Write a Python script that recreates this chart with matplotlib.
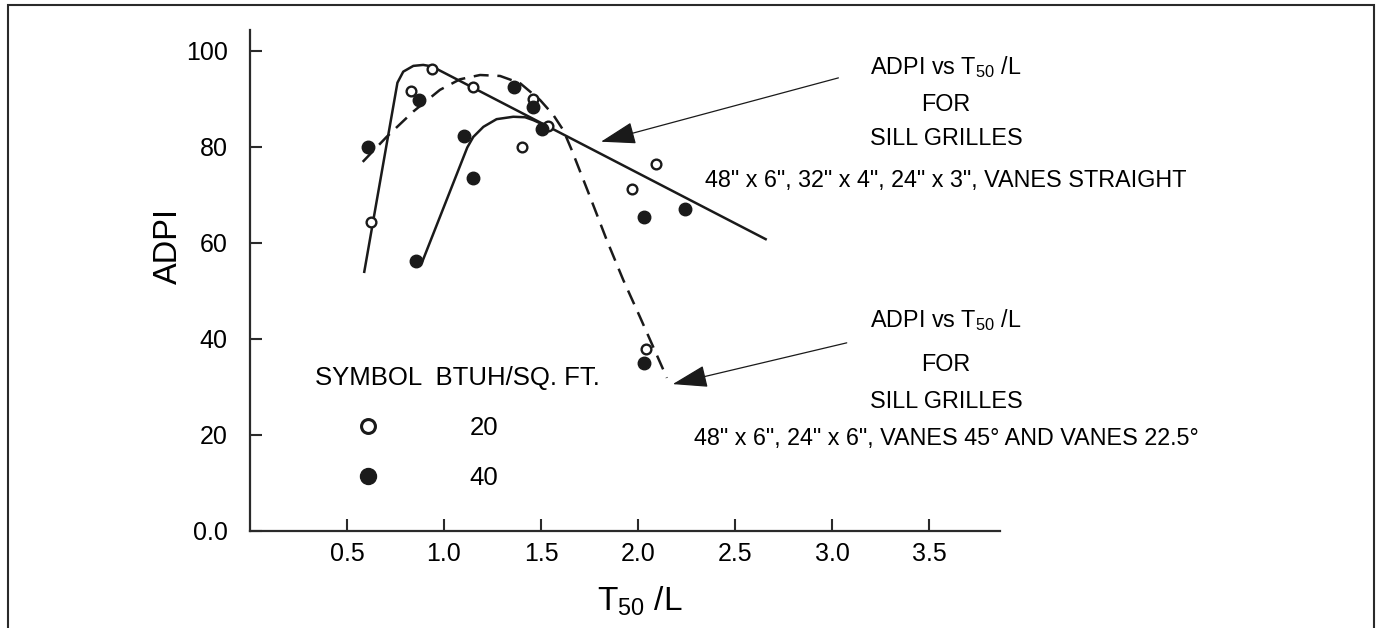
import matplotlib
matplotlib.use('Agg')
import matplotlib.pyplot as plt
from matplotlib.patches import Rectangle

plt.rcParams['font.family'] = ['Liberation Sans', 'DejaVu Sans']
plt.rcParams['mathtext.fontset'] = 'custom'
plt.rcParams['mathtext.rm'] = 'Liberation Sans'
plt.rcParams['mathtext.it'] = 'Liberation Sans'

# measured points, T50/L vs ADPI
open_x = [0.622, 0.828, 0.937, 1.151, 1.40, 1.46, 1.538, 1.967, 2.04, 2.093]
open_y = [64.3, 91.7, 96.2, 92.4, 79.9, 89.9, 84.4, 71.3, 37.9, 76.4]   # 20 BTUH/sq.ft
fill_x = [0.607, 0.856, 0.871, 1.103, 1.151, 1.362, 1.46, 1.507, 2.031, 2.031, 2.244]
fill_y = [79.9, 56.3, 89.8, 82.3, 73.5, 92.4, 88.4, 83.7, 65.4, 34.9, 67.1]  # 40 BTUH/sq.ft

# hand drawn curves
line1_x = [0.589, 0.760, 0.790, 0.842, 0.893, 0.937, 2.658]
line1_y = [54.0, 93.4, 95.7, 96.9, 97.1, 96.8, 60.8]
line2_x = [0.890, 1.120, 1.151, 1.203, 1.271, 1.357, 1.418, 1.460, 1.504]
line2_y = [56.3, 79.9, 82.1, 84.2, 85.8, 86.3, 86.2, 85.6, 84.8]
dash_x = [0.581, 0.704, 0.842, 0.979, 1.082, 1.186, 1.289, 1.392, 1.495, 1.563, 1.615,
          1.658, 1.753, 1.839, 1.924, 2.010, 2.149]
dash_y = [76.9, 82.1, 87.4, 91.9, 94.1, 95.0, 94.8, 93.3, 89.8, 86.7, 83.5,
          79.4, 69.6, 60.6, 52.3, 44.6, 31.9]

xticks = [0.5, 1.0, 1.5, 2.0, 2.5, 3.0, 3.5]
xticklabels = ['0.5', '1.0', '1.5', '2.0', '2.5', '3.0', '3.5']
yticks = [0, 20, 40, 60, 80, 100]
yticklabels = ['0.0', '20', '40', '60', '80', '100']

block1 = ['ADPI vs T$_{\\mathregular{50}}$ /L', 'FOR', 'SILL GRILLES',
          '48" x 6", 32" x 4", 24" x 3", VANES STRAIGHT']
block2 = ['ADPI vs T$_{\\mathregular{50}}$ /L', 'FOR', 'SILL GRILLES',
          '48" x 6", 24" x 6", VANES 45° AND VANES 22.5°']

fig = plt.figure(figsize=(13.8, 6.28), dpi=100)
ax = fig.add_axes([250/1380, 1-531/628, 750/1380, 501/628])
ax.set_xlim(0, 750/194)
ax.set_ylim(0, 501/4.8)

k = '#1a1a1a'
ax.plot(line1_x, line1_y, color=k, lw=1.8, solid_joinstyle='round')
ax.plot(line2_x, line2_y, color=k, lw=1.8, solid_joinstyle='round')
ax.plot(dash_x, dash_y, color=k, lw=1.8, dashes=(6, 3.5))

ax.plot(open_x, open_y, 'o', ms=7, mfc='white', mec=k, mew=1.7, zorder=5)
ax.plot(fill_x, fill_y, 'o', ms=9, mfc=k, mec=k, zorder=5)

# legend by hand
ax.text(0.335, 31.8, 'SYMBOL  BTUH/SQ. FT.', fontsize=18.5, ha='left', va='center')
ax.plot([0.607], [21.9], 'o', ms=10, mfc='white', mec=k, mew=2.2, clip_on=False)
ax.plot([0.607], [11.5], 'o', ms=11.5, mfc=k, mec=k, clip_on=False)
ax.text(1.206, 21.4, '20', fontsize=18.5, ha='center', va='center')
ax.text(1.206, 11.0, '40', fontsize=18.5, ha='center', va='center')

# annotations
for s, yy in zip(block1, [96.6, 88.9, 81.7, 73.1]):
    ax.text(3.588, yy, s, fontsize=16.8, ha='center', va='center')
for s, yy in zip(block2, [44.0, 34.7, 27.0, 19.2]):
    ax.text(3.588, yy, s, fontsize=16.8, ha='center', va='center')

ap = dict(arrowstyle='-|>,head_length=22,head_width=7', mutation_scale=1,
          lw=0.9, color=k, shrinkA=0, shrinkB=0)
ax.annotate('', xy=(1.809, 81.1), xytext=(3.033, 94.4), arrowprops=ap, annotation_clip=False)
ax.annotate('', xy=(2.179, 30.6), xytext=(3.076, 39.2), arrowprops=ap, annotation_clip=False)

# axes styling
for side in ['top', 'right']:
    ax.spines[side].set_visible(False)
for side in ['left', 'bottom']:
    ax.spines[side].set_linewidth(1.6)
    ax.spines[side].set_color('#2a2a2a')
ax.set_xticks(xticks, labels=xticklabels)
ax.set_yticks(yticks, labels=yticklabels)
ax.tick_params(direction='in', length=8.5, width=1.5, color='#2a2a2a', labelsize=18)
ax.tick_params(axis='x', pad=8)
ax.tick_params(axis='y', pad=16)

ax.text(-0.109, 0.569, 'ADPI', transform=ax.transAxes, rotation=90,
        fontsize=23.5, ha='center', va='center')
ax.text(0.52, -0.14, 'T$_{\\mathregular{50}}$ /L', transform=ax.transAxes,
        fontsize=24, ha='center', va='center')

# frame round the whole figure
fig.add_artist(Rectangle((8/1380, -0.1), 1366/1380, 1.1 - 5/628, transform=fig.transFigure,
                         fill=False, lw=1.5, ec='#2a2a2a'))

fig.savefig('out.png', dpi=100)
